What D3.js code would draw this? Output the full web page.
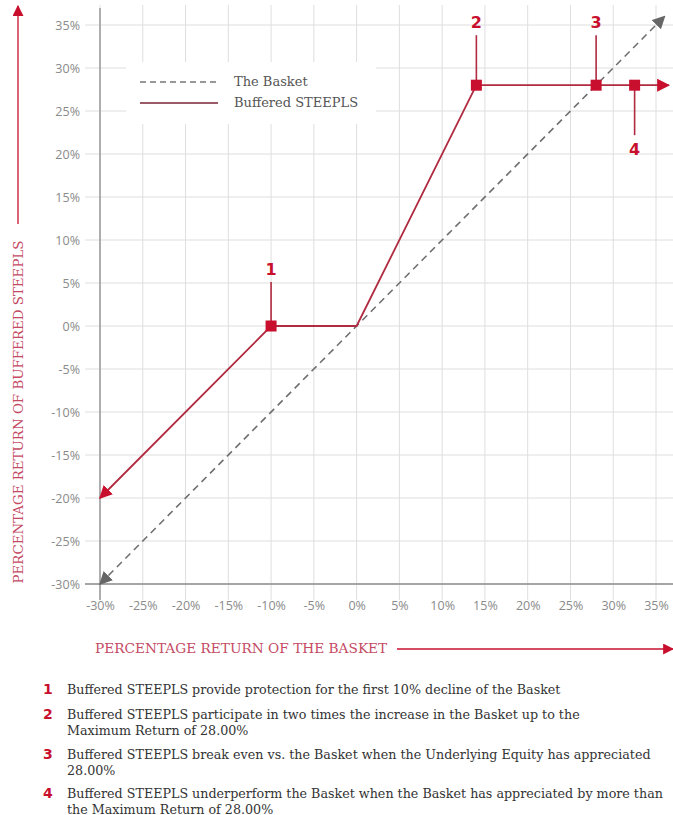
<!DOCTYPE html>
<html><head><meta charset="utf-8">
<script src="https://cdn.jsdelivr.net/npm/d3@7"></script>
<style>body{margin:0;background:#fff}svg{display:block}</style>
</head><body>
<script>
const xTicks = [-30,-25,-20,-15,-10,-5,0,5,10,15,20,25,30,35];
const yTicks = [-30,-25,-20,-15,-10,-5,0,5,10,15,20,25,30,35];
const basketX = [-30, 36];
const basketY = [-30, 36];
const steeplsX = [-30, -10, 0, 14, 28, 36.5];
const steeplsY = [-20, 0, 0, 28, 28, 28];
const markerX = [-10, 14, 28, 32.5];
const markerY = [0, 28, 28, 28];
const markerLabels = ["1","2","3","4"];
const markerDir = ["up","up","up","down"];
const legendLabels = ["The Basket","Buffered STEEPLS"];
const noteNums = ["1","2","3","4"];
const noteLines = [
  ["Buffered STEEPLS provide protection for the first 10% decline of the Basket"],
  ["Buffered STEEPLS participate in two times the increase in the Basket up to the","Maximum Return of 28.00%"],
  ["Buffered STEEPLS break even vs. the Basket when the Underlying Equity has appreciated","28.00%"],
  ["Buffered STEEPLS underperform the Basket when the Basket has appreciated by more than","the Maximum Return of 28.00%"]
];

const W = 673, H = 815;
const svg = d3.select("body").append("svg").attr("width", W).attr("height", H);
const x = d3.scaleLinear().domain([-30, 35]).range([100, 656]);
const y = d3.scaleLinear().domain([-30, 35]).range([584, 25]);
const red = "#c8102e", lineRed = "#b02a40", titleRed = "#c44a63";
const serif = "'DejaVu Serif', 'Liberation Serif', serif";

const defs = svg.append("defs");
function mk(id, color, size) {
  defs.append("marker").attr("id", id).attr("viewBox", "0 0 10 10").attr("refX", 9).attr("refY", 5)
    .attr("markerWidth", size).attr("markerHeight", size).attr("markerUnits", "userSpaceOnUse")
    .attr("orient", "auto-start-reverse")
    .append("path").attr("d", "M0,0 L10,5 L0,10 Z").attr("fill", color);
}
mk("arrGray", "#666", 13);
mk("arrRed", red, 13);
mk("arrTitle", red, 11);

// gridlines
const grid = svg.append("g");
grid.selectAll("line.v").data(xTicks).join("line")
  .attr("x1", d => x(d)).attr("x2", d => x(d)).attr("y1", 5).attr("y2", 600)
  .attr("stroke", "#dedede").attr("stroke-width", 1);
grid.selectAll("line.h").data(yTicks).join("line")
  .attr("x1", 85).attr("x2", W).attr("y1", d => y(d)).attr("y2", d => y(d))
  .attr("stroke", "#dedede").attr("stroke-width", 1);

// axes
const tickFont = "'Open Sans', sans-serif";
const xAxis = d3.axisBottom(x).tickValues(xTicks).tickFormat(d => d + "%").tickSize(0).tickPadding(17);
const gx = svg.append("g").attr("transform", `translate(0,${y(-30)})`).call(xAxis);
gx.select(".domain").remove();
gx.selectAll("text").attr("fill", "#8a8a8a").style("font-family", tickFont).style("font-size", "12.5px");
const yAxis = d3.axisLeft(y).tickValues(yTicks).tickFormat(d => d + "%").tickSize(0).tickPadding(20);
const gy = svg.append("g").attr("transform", `translate(${x(-30)},0)`).call(yAxis);
gy.select(".domain").remove();
gy.selectAll("text").attr("fill", "#8a8a8a").style("font-family", tickFont).style("font-size", "12.5px");

svg.append("line").attr("x1", 85).attr("x2", W).attr("y1", y(-30)).attr("y2", y(-30)).attr("stroke", "#8c8c8c").attr("stroke-width", 1.3);
svg.append("line").attr("x1", x(-30)).attr("x2", x(-30)).attr("y1", 8).attr("y2", 600).attr("stroke", "#8c8c8c").attr("stroke-width", 1.3);

// legend
const lg = svg.append("g");
lg.append("rect").attr("x", 126).attr("y", 62).attr("width", 250).attr("height", 62).attr("fill", "#fff");
lg.append("line").attr("x1", 140).attr("x2", 218).attr("y1", 82).attr("y2", 82).attr("stroke", "#777").attr("stroke-width", 1.5).attr("stroke-dasharray", "6,4");
lg.append("line").attr("x1", 140).attr("x2", 218).attr("y1", 103).attr("y2", 103).attr("stroke", "#9a5a68").attr("stroke-width", 2);
lg.selectAll("text").data(legendLabels).join("text")
  .attr("x", 234).attr("y", (d, i) => 86 + i * 21).text(d => d)
  .attr("fill", "#555").style("font-family", serif).style("font-size", "13px");

// basket line
const line = d3.line().x(d => x(d[0])).y(d => y(d[1]));
svg.append("path").datum(basketX.map((v, i) => [v, basketY[i]])).attr("d", line)
  .attr("fill", "none").attr("stroke", "#6f6f6f").attr("stroke-width", 1.6).attr("stroke-dasharray", "7,5")
  .attr("marker-start", "url(#arrGray)").attr("marker-end", "url(#arrGray)");

// annotation stems
markerX.forEach((mx, i) => {
  const px = x(mx), py = y(markerY[i]);
  const up = markerDir[i] === "up";
  const len = i === 0 ? 44 : 50;
  svg.append("line").attr("x1", px).attr("x2", px).attr("y1", py).attr("y2", up ? py - len : py + len)
    .attr("stroke", lineRed).attr("stroke-width", 1.6);
  svg.append("text").attr("x", px).attr("y", up ? py - len - 7 : py + len + 20).attr("text-anchor", "middle")
    .text(markerLabels[i]).attr("fill", red).style("font-family", "'DejaVu Sans', sans-serif")
    .style("font-weight", "bold").style("font-size", "16px");
});

// steepls line
svg.append("path").datum(steeplsX.map((v, i) => [v, steeplsY[i]])).attr("d", line)
  .attr("fill", "none").attr("stroke", lineRed).attr("stroke-width", 1.8)
  .attr("marker-start", "url(#arrRed)").attr("marker-end", "url(#arrRed)");

// markers
svg.selectAll("rect.m").data(markerX).join("rect")
  .attr("x", (d) => x(d) - 5.5).attr("y", (d, i) => y(markerY[i]) - 5.5)
  .attr("width", 11).attr("height", 11).attr("fill", red);

// axis titles
svg.append("text").attr("transform", "translate(23,412) rotate(-90)").attr("text-anchor", "middle")
  .text("PERCENTAGE RETURN OF BUFFERED STEEPLS").attr("fill", titleRed)
  .style("font-family", serif).style("font-size", "13.4px");
svg.append("line").attr("x1", 18).attr("x2", 18).attr("y1", 224).attr("y2", 6)
  .attr("stroke", red).attr("stroke-width", 1.3).attr("marker-end", "url(#arrTitle)");
svg.append("text").attr("x", 95).attr("y", 653)
  .text("PERCENTAGE RETURN OF THE BASKET").attr("fill", titleRed)
  .style("font-family", serif).style("font-size", "13.7px");
svg.append("line").attr("x1", 397).attr("x2", 673).attr("y1", 649).attr("y2", 649)
  .attr("stroke", red).attr("stroke-width", 1.3).attr("marker-end", "url(#arrTitle)");

// notes
const noteY = [694, 719, 759, 798];
noteNums.forEach((n, i) => {
  svg.append("text").attr("x", 43).attr("y", noteY[i]).text(n).attr("fill", red)
    .style("font-family", "'DejaVu Sans', sans-serif").style("font-weight", "bold").style("font-size", "14px");
  noteLines[i].forEach((t, j) => {
    svg.append("text").attr("x", 67).attr("y", noteY[i] + j * 15.5).text(t).attr("fill", "#333")
      .style("font-family", serif).style("font-size", "12.7px");
  });
});
</script>
</body></html>
